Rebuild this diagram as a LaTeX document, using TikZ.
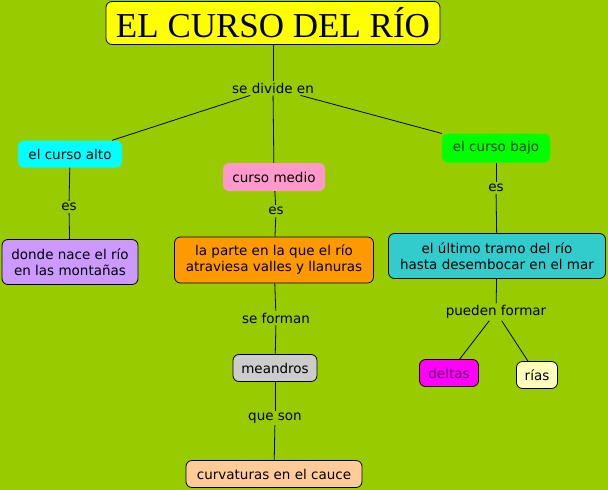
\documentclass[tikz,border=0pt]{standalone}
\usepackage{fontspec}
\setmainfont{DejaVu Sans}
\newfontfamily\titlefont{Liberation Serif}
\definecolor{fondo}{HTML}{99CC00}
\definecolor{amarillo}{HTML}{FFFF00}
\definecolor{cian}{HTML}{00FFFF}
\definecolor{rosa}{HTML}{FF99CC}
\definecolor{verde}{HTML}{00FF00}
\definecolor{lila}{HTML}{CC99FF}
\definecolor{naranja}{HTML}{FF9900}
\definecolor{turquesa}{HTML}{33CCCC}
\definecolor{gris}{HTML}{CCCCCC}
\definecolor{melocoton}{HTML}{FFCC99}
\definecolor{magenta}{HTML}{FF00FF}
\definecolor{crema}{HTML}{FFFFBB}

\begin{document}
\begin{tikzpicture}[
  x=1pt, y=-1pt,
  every node/.style={font=\fontsize{13.5}{16}\selectfont},
  concept/.style={rounded corners=6pt, align=center, minimum height=27pt, inner xsep=6pt, inner ysep=2pt},
  framed/.style={concept, draw=black, line width=0.8pt},
  linkword/.style={fill=fondo, inner sep=2pt, text=black},
  link/.style={draw=black, line width=0.8pt}
]
\useasboundingbox[fill=fondo] (0,0) rectangle (608,490);
% conceptos
\node[framed, fill=amarillo, minimum width=334pt, minimum height=43pt, font=\titlefont\fontsize{35}{40}\selectfont] (title) at (273,23) {EL CURSO DEL RÍO};
\node[concept, fill=cian, minimum width=104pt] (alto) at (70,154) {el curso alto};
\node[concept, fill=rosa, minimum width=102pt, minimum height=28pt] (medio) at (274,177) {curso medio};
\node[concept, fill=verde, minimum width=108pt, minimum height=29pt, text=black!75!green] (bajo) at (496,148) {el curso bajo};
\node[framed, fill=lila, minimum width=136pt, minimum height=45pt] (nace) at (70,262) {donde nace el río\\en las montañas};
\node[framed, fill=naranja, minimum width=199pt, minimum height=46pt] (parte) at (274,260) {la parte en la que el río\\atraviesa valles y llanuras};
\node[framed, fill=turquesa, minimum width=217pt, minimum height=45pt] (tramo) at (497,256) {el último tramo del río\\hasta desembocar en el mar};
\node[framed, fill=gris, minimum width=84pt] (meandros) at (275,368) {meandros};
\node[framed, fill=melocoton, minimum width=176pt] (curvas) at (274,474) {curvaturas en el cauce};
\node[framed, fill=magenta, minimum width=59pt, text=black!60!magenta] (deltas) at (449,373) {deltas};
\node[framed, fill=crema, minimum width=41pt] (rias) at (537,375) {rías};
% palabras de enlace
\node[linkword] (divide) at (273,88) {se divide en};
\node[linkword] (es1) at (69,207) {es};
\node[linkword] (es2) at (276,211) {es};
\node[linkword] (es3) at (496,188) {es};
\node[linkword] (forman) at (276,318) {se forman};
\node[linkword] (son) at (275,418) {que son};
\node[linkword] (pueden) at (496,312) {pueden formar};
% enlaces
\draw[link] (title) -- (divide);
\draw[link] (divide) -- (alto);
\draw[link] (divide) -- (medio);
\draw[link] (divide) -- (bajo);
\draw[link] (alto) -- (es1);
\draw[link] (es1) -- (nace);
\draw[link] (medio) -- (es2);
\draw[link] (es2) -- (parte);
\draw[link] (bajo) -- (es3);
\draw[link] (es3) -- (tramo);
\draw[link] (parte) -- (forman);
\draw[link] (forman) -- (meandros);
\draw[link] (meandros) -- (son);
\draw[link] (son) -- (curvas);
\draw[link] (tramo) -- (pueden);
\draw[link] (pueden) -- (deltas);
\draw[link] (pueden) -- (rias);
\end{tikzpicture}
\end{document}
